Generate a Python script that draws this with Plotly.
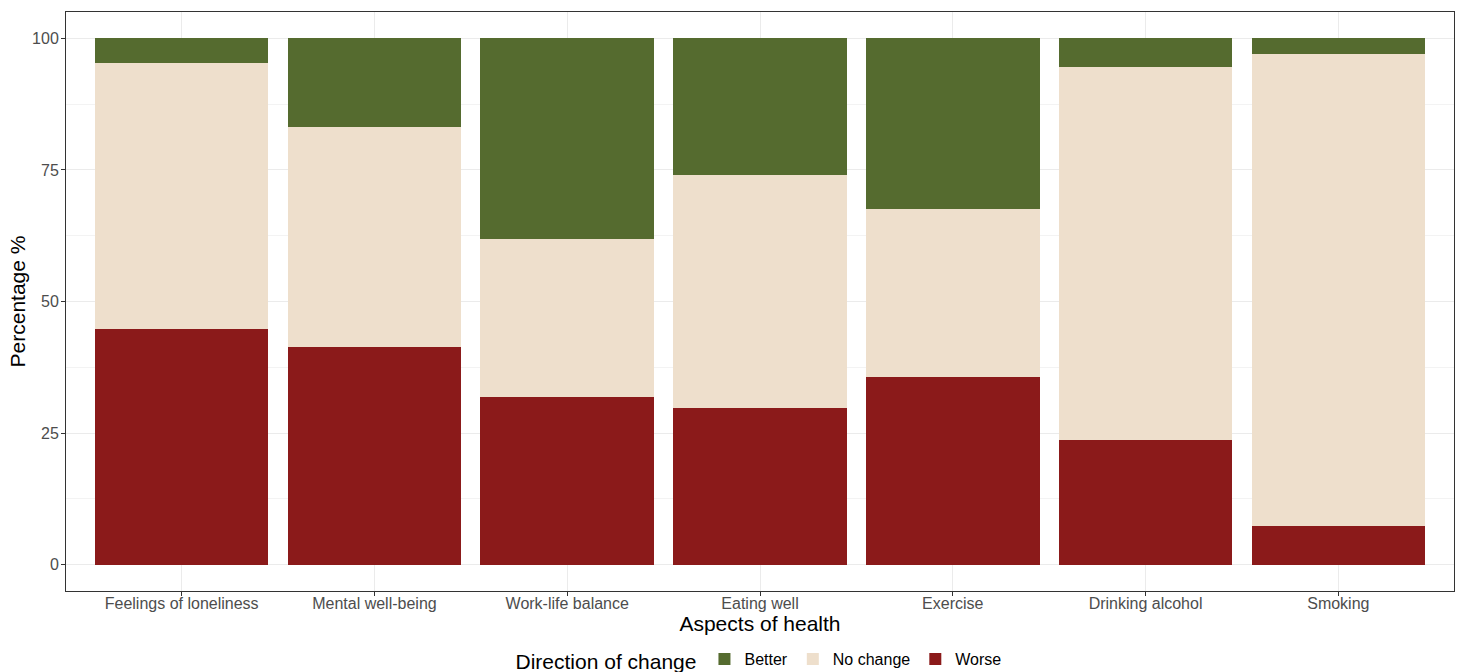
import plotly.graph_objects as go

categories = ["Feelings of loneliness", "Mental well-being", "Work-life balance",
              "Eating well", "Exercise", "Drinking alcohol", "Smoking"]
worse = [44.7, 41.3, 31.9, 29.7, 35.6, 23.6, 7.4]
no_change = [50.7, 41.8, 29.9, 44.4, 31.9, 70.9, 89.6]
better = [4.6, 16.9, 38.2, 25.9, 32.5, 5.5, 3.0]

series_colors = {"Better": "#556B2F", "No change": "#EEDFCC", "Worse": "#8B1A1A"}

y_ticks = [0, 25, 50, 75, 100]

fig = go.Figure()
# stack order bottom->top: Worse, No change, Better
for name, vals in [("Worse", worse), ("No change", no_change), ("Better", better)]:
    fig.add_trace(go.Bar(
        x=categories, y=vals, name=name,
        marker=dict(color=series_colors[name], line=dict(width=0)),
        width=0.9,
    ))

fig.update_layout(
    barmode="stack",
    width=1462, height=672,
    margin=dict(l=66, r=8, t=12, b=81),
    plot_bgcolor="white", paper_bgcolor="white",
    font=dict(family="Liberation Sans, Arial, sans-serif", color="#4D4D4D"),
    showlegend=True,
    legend=dict(
        orientation="h", x=0.5, xanchor="center", xref="paper",
        y=11 / 672, yanchor="middle", yref="container",
        traceorder="reversed",
        title=dict(text="Direction of change", side="left",
                   font=dict(size=21, color="black")),
        font=dict(size=16, color="black"),
        itemwidth=30,
    ),
)

fig.update_xaxes(
    range=[-0.6, 6.6], automargin=False,
    showline=True, mirror=True, linecolor="#333333", linewidth=1,
    ticks="outside", ticklen=4, tickcolor="#333333",
    ticklabelstandoff=-6,
    tickfont=dict(size=16, color="#4D4D4D"),
    showgrid=True, gridcolor="#EBEBEB", gridwidth=1,
    title=dict(text="Aspects of health", font=dict(size=21, color="black"), standoff=2),
    zeroline=False,
)
fig.update_yaxes(
    range=[-5, 105], automargin=False,
    tickvals=y_ticks, ticktext=[str(v) for v in y_ticks],
    showline=True, mirror=True, linecolor="#333333", linewidth=1,
    ticks="outside", ticklen=4, tickcolor="#333333",
    ticklabelstandoff=-1,
    tickfont=dict(size=16, color="#4D4D4D"),
    showgrid=True, gridcolor="#EBEBEB", gridwidth=1,
    minor=dict(tick0=12.5, dtick=25, showgrid=True, gridcolor="#F3F3F3", gridwidth=1, ticks=""),
    title=dict(text="Percentage %", font=dict(size=21, color="black"), standoff=0),
    zeroline=False,
)

fig.write_html("out.html", config={"displayModeBar": False},
               post_script="document.body.style.margin='0';")
